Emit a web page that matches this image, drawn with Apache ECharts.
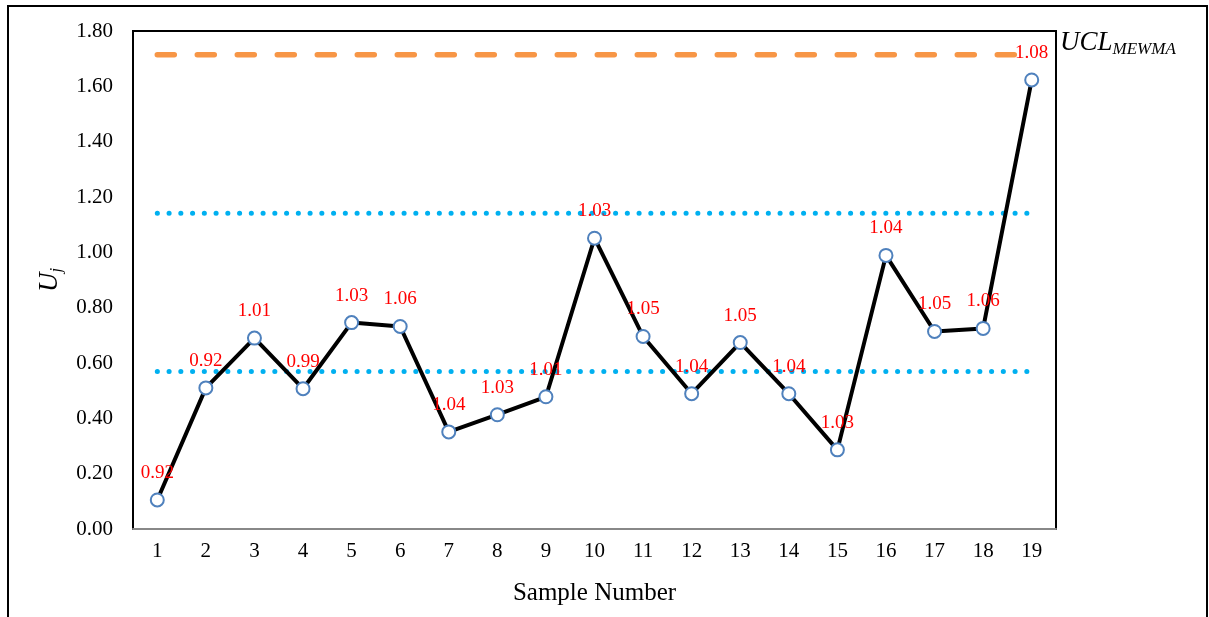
<!DOCTYPE html>
<html>
<head>
<meta charset="utf-8">
<script src="https://cdn.jsdelivr.net/npm/echarts@6/dist/echarts.min.js"></script>
<style>
  html, body { margin: 0; padding: 0; background: #fff; }
  #chart { width: 1209px; height: 617px; }
</style>
</head>
<body>
<div id="chart"></div>
<script>
// sample numbers on the x axis
const samples = ["1","2","3","4","5","6","7","8","9","10","11","12","13","14","15","16","17","18","19"];
// U_j statistic per sample
const uValues = [0.105, 0.51, 0.69, 0.507, 0.746, 0.732, 0.351, 0.413, 0.478, 1.051,
                 0.696, 0.489, 0.674, 0.489, 0.286, 0.989, 0.714, 0.725, 1.623];
// red numbers printed above each point
const pointLabels = ["0.92","0.92","1.01","0.99","1.03","1.06","1.04","1.03","1.01","1.03",
                     "1.05","1.04","1.05","1.04","1.03","1.04","1.05","1.06","1.08"];
// control limits
const uclMewma = 1.714;
const upperBand = 1.141;
const lowerBand = 0.569;
// y axis ticks
const yMin = 0, yMax = 1.8, yStep = 0.2;

const serif = "'Liberation Serif', 'Times New Roman', serif";

const chart = echarts.init(document.getElementById("chart"));

const flat = (v) => samples.map(() => v);

const option = {
  animation: false,
  backgroundColor: "#fff",
  grid: {
    left: 133, right: 153, top: 31, bottom: 88,
    show: true,
    borderColor: "#000",
    borderWidth: 2,
    backgroundColor: "transparent"
  },
  xAxis: {
    type: "category",
    data: samples,
    boundaryGap: true,
    name: "Sample Number",
    nameLocation: "middle",
    nameGap: 52,
    nameTextStyle: { fontFamily: serif, fontSize: 25, color: "#000" },
    axisLine: { lineStyle: { color: "#888", width: 2 } },
    axisTick: { show: false },
    axisLabel: { fontFamily: serif, fontSize: 21, color: "#000", margin: 12 }
  },
  yAxis: {
    type: "value",
    min: yMin, max: yMax, interval: yStep,
    name: "{u|U}{j|j}",
    nameLocation: "middle",
    nameGap: 64,
    nameRotate: 90,
    nameTextStyle: {
      rich: {
        u: { fontFamily: serif, fontStyle: "italic", fontSize: 27, color: "#000" },
        j: { fontFamily: serif, fontStyle: "italic", fontSize: 17, color: "#000", verticalAlign: "bottom", padding: [14, 0, 0, 0] }
      }
    },
    axisLine: { show: true, lineStyle: { color: "#000", width: 2 } },
    axisTick: { show: false },
    splitLine: { show: false },
    axisLabel: {
      fontFamily: serif, fontSize: 21, color: "#000", margin: 20,
      formatter: (v) => v.toFixed(2)
    }
  },
  series: [
    {
      name: "UCL",
      type: "line",
      data: flat(uclMewma),
      symbol: "none",
      silent: true,
      lineStyle: { color: "#f79646", width: 5.5, type: [17, 23], cap: "round" },
      z: 1
    },
    {
      name: "upper",
      type: "line",
      data: flat(upperBand),
      symbol: "none",
      silent: true,
      lineStyle: { color: "#00b0f0", width: 5, type: [0.1, 11.65], cap: "round" },
      z: 1
    },
    {
      name: "lower",
      type: "line",
      data: flat(lowerBand),
      symbol: "none",
      silent: true,
      lineStyle: { color: "#00b0f0", width: 5, type: [0.1, 11.65], cap: "round" },
      z: 1
    },
    {
      name: "Uj",
      type: "line",
      data: uValues,
      symbol: "circle",
      symbolSize: 13,
      showAllSymbol: true,
      lineStyle: { color: "#000", width: 4 },
      itemStyle: { color: "#fff", borderColor: "#4f81bd", borderWidth: 2 },
      label: {
        show: true,
        position: "top",
        distance: 10,
        fontFamily: serif,
        fontSize: 19,
        color: "#ff0000",
        formatter: (p) => pointLabels[p.dataIndex]
      },
      z: 3
    }
  ],
  graphic: [
    {
      type: "rect",
      shape: { x: 8, y: 6, width: 1199, height: 640 },
      style: { fill: null, stroke: "#000", lineWidth: 2 },
      silent: true,
      z: -1
    },
    {
      type: "text",
      left: 1060,
      top: 29,
      style: {
        text: "{a|UCL}{b|MEWMA}",
        rich: {
          a: { fontFamily: serif, fontStyle: "italic", fontSize: 27, color: "#000" },
          b: { fontFamily: serif, fontStyle: "italic", fontSize: 17, color: "#000", padding: [14, 0, 0, 0] }
        }
      }
    }
  ]
};

chart.setOption(option);
</script>
</body>
</html>
